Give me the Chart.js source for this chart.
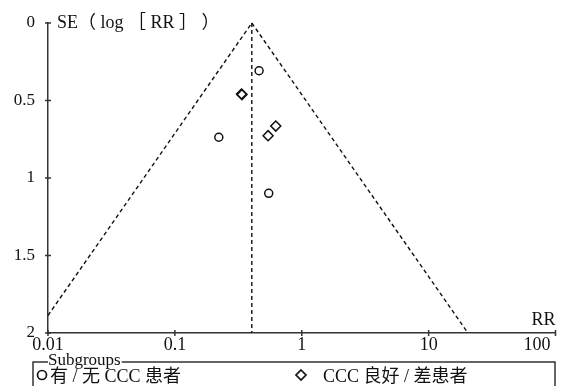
<!DOCTYPE html>
<html>
<head>
<meta charset="utf-8">
<script src="https://cdn.jsdelivr.net/npm/chart.js@4.4.1/dist/chart.umd.min.js"></script>
<style>
  html, body { margin: 0; padding: 0; background: #fff; }
  #wrap { width: 562px; height: 386px; }
</style>
</head>
<body>
<div id="wrap"><canvas id="chart" width="562" height="386"></canvas></div>
<script>
// values
var xTicks = [0.01, 0.1, 1, 10, 100];
var yTicks = [0, 0.5, 1, 1.5, 2];
var xLabels = ['0.01', '0.1', '1', '10', '100'];

var funnelLeft = [{x: 0.01, y: 1.887}, {x: 0.404, y: 0}];
var funnelRight = [{x: 0.404, y: 0}, {x: 20.4, y: 2}];
var pooledLine = [{x: 0.404, y: 0}, {x: 0.404, y: 2}];

var groupALabel = '有 / 无 CCC 患者';
var groupA_rr = [0.461, 0.222, 0.549];
var groupA_se = [0.308, 0.737, 1.099];

var groupBLabel = 'CCC 良好 / 差患者';
var groupB_rr = [0.335, 0.338, 0.624, 0.543];
var groupB_se = [0.458, 0.462, 0.665, 0.727];

var serif = '"Liberation Serif", "Times New Roman", "Noto Sans CJK SC", serif';
var mixed = '"Liberation Serif", "Noto Sans CJK SC", serif';

function toPoints(xs, ys) {
  return xs.map(function(x, i) { return {x: x, y: ys[i]}; });
}

function dashed(data) {
  return {
    type: 'line', data: data, showLine: true, pointRadius: 0,
    borderColor: '#111', borderWidth: 1.4, borderDash: [4, 3],
    fill: false, clip: false
  };
}

var extras = {
  id: 'extras',
  afterDraw: function(chart) {
    var ctx = chart.ctx;
    var xs = chart.scales.x, ys = chart.scales.y;
    var a = chart.chartArea;
    ctx.save();
    ctx.strokeStyle = '#333';
    ctx.lineWidth = 1.5;
    // crossing tick marks
    yTicks.forEach(function(v) {
      var py = ys.getPixelForValue(v);
      ctx.beginPath(); ctx.moveTo(a.left - 3, py); ctx.lineTo(a.left + 3, py); ctx.stroke();
    });
    xTicks.forEach(function(v) {
      var px = xs.getPixelForValue(v);
      ctx.beginPath(); ctx.moveTo(px, a.bottom - 3); ctx.lineTo(px, a.bottom + 3); ctx.stroke();
    });
    // x tick labels
    ctx.fillStyle = '#111';
    ctx.font = '18px ' + serif;
    ctx.textBaseline = 'alphabetic';
    xTicks.forEach(function(v, i) {
      var px = xs.getPixelForValue(v);
      if (i === xTicks.length - 1) { ctx.textAlign = 'right'; px -= 5; }
      else ctx.textAlign = 'center';
      ctx.fillText(xLabels[i], px, a.bottom + 17);
    });
    // axis titles
    ctx.textAlign = 'left';
    ctx.fillText('SE（ log ［ RR ］ ）', a.left + 9, 28);
    ctx.textAlign = 'right';
    ctx.fillText('RR', a.right, 325);

    // legend box
    var lx = 33, ly = 362;
    ctx.strokeStyle = '#333';
    ctx.lineWidth = 1.5;
    ctx.strokeRect(lx, ly, 555 - lx, 60);
    ctx.font = '17px ' + serif;
    var tw = ctx.measureText('Subgroups').width;
    ctx.fillStyle = '#fff';
    ctx.fillRect(lx + 15, ly - 3, tw + 1, 6);
    ctx.fillStyle = '#111';
    ctx.textAlign = 'left';
    ctx.fillText('Subgroups', lx + 15, 365);

    ctx.lineWidth = 1.7;
    ctx.strokeStyle = '#111';
    ctx.beginPath(); ctx.arc(42, 375, 4.5, 0, Math.PI * 2); ctx.stroke();
    ctx.beginPath();
    ctx.moveTo(301, 370); ctx.lineTo(306, 375); ctx.lineTo(301, 380); ctx.lineTo(296, 375);
    ctx.closePath(); ctx.stroke();
    ctx.font = '18px ' + mixed;
    ctx.fillText(chart.data.datasets[3].label, 50, 382);
    ctx.fillText(chart.data.datasets[4].label, 323, 382);
    ctx.restore();
  }
};

var ctx = document.getElementById('chart').getContext('2d');
var chart = new Chart(ctx, {
  type: 'scatter',
  data: {
    datasets: [
      dashed(funnelLeft),
      dashed(funnelRight),
      dashed(pooledLine),
      {
        label: groupALabel, data: toPoints(groupA_rr, groupA_se),
        pointStyle: 'circle', pointRadius: 4, borderWidth: 1.5,
        borderColor: '#111', backgroundColor: '#fff'
      },
      {
        label: groupBLabel, data: toPoints(groupB_rr, groupB_se),
        pointStyle: 'rectRot', pointRadius: 5, borderWidth: 1.5,
        borderColor: '#111', backgroundColor: 'rgba(255,255,255,0)'
      }
    ]
  },
  options: {
    responsive: false,
    animation: false,
    layout: { padding: { top: 23, left: 0, right: 6, bottom: 0 } },
    plugins: { legend: { display: false }, tooltip: { enabled: false } },
    scales: {
      x: {
        type: 'logarithmic', min: 0.01, max: 100,
        grid: { display: false, drawTicks: false },
        border: { display: true, color: '#333', width: 1.5 },
        ticks: { display: false },
        afterBuildTicks: function(s) { s.ticks = xTicks.map(function(v) { return {value: v}; }); },
        afterFit: function(s) { s.height = 53; s.paddingLeft = 0; s.paddingRight = 0; }
      },
      y: {
        type: 'linear', reverse: true, min: 0, max: 2,
        grid: { display: false, drawTicks: false },
        border: { display: true, color: '#333', width: 1.5 },
        afterBuildTicks: function(s) { s.ticks = yTicks.map(function(v) { return {value: v}; }); },
        ticks: {
          padding: 13, color: '#111',
          font: { family: serif, size: 17 },
          callback: function(v) { return String(v); }
        },
        afterFit: function(s) { s.width = 48; s.paddingTop = 0; s.paddingBottom = 0; }
      }
    }
  },
  plugins: [extras]
});
</script>
</body>
</html>
